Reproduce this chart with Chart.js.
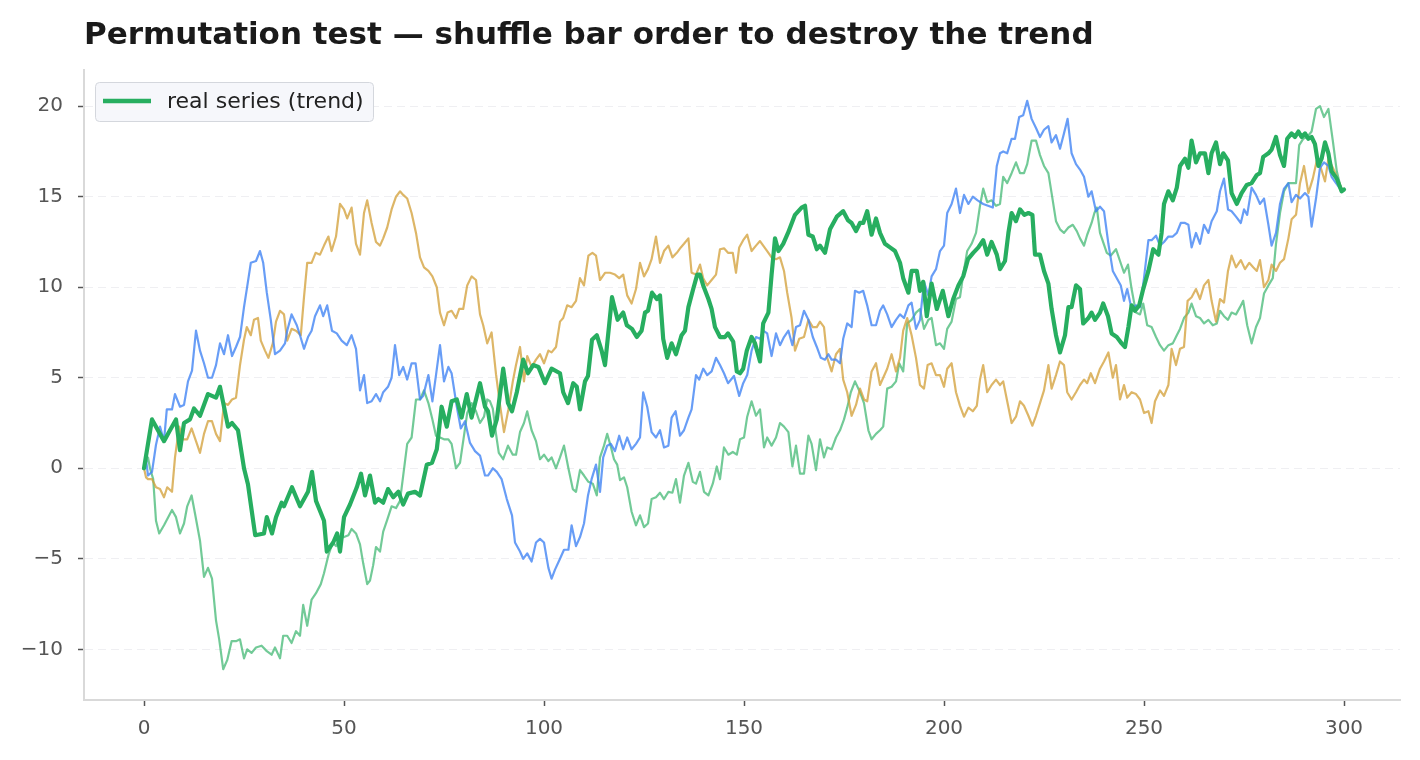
<!DOCTYPE html>
<html>
<head>
<meta charset="utf-8">
<script src="https://cdn.jsdelivr.net/npm/chart.js@4.4.1/dist/chart.umd.min.js"></script>
<style>
html, body { margin: 0; padding: 0; background: #fff; }
canvas { display: block; }
</style>
</head>
<body>
<canvas id="chart" width="1420" height="760"></canvas>
<script>
const chartTitle = 'Permutation test \u2014 shuffle bar order to destroy the trend';
const legendLabel = 'real series (trend)';

const xTickValues = [0, 50, 100, 150, 200, 250, 300];
const yTickValues = [-10, -5, 0, 5, 10, 15, 20];

// [step, cumulative value]
const realSeries = [[0,0],[2,2.7],[5,1.5],[6.5,2.1],[8,2.7],[9,1.0],[10,2.5],[11.5,2.7],[12.5,3.3],[14,2.9],[16,4.1],[18,3.9],[19,4.5],[21,2.3],[22,2.5],[23.5,2.1],[25,0],[26,-0.9],[26.9,-2.3],[27.8,-3.7],[30,-3.6],[30.7,-2.7],[32,-3.6],[33,-2.7],[34.4,-1.9],[35,-2.1],[37,-1.05],[39,-2.1],[41,-1.3],[42,-0.2],[43,-1.8],[45,-2.9],[45.7,-4.6],[47.3,-4.1],[48.3,-3.6],[49,-4.6],[50,-2.7],[51.5,-2.0],[53.2,-1.05],[54.25,-0.3],[55.25,-1.5],[56.5,-0.4],[57.75,-1.9],[58.6,-1.7],[59.8,-1.9],[61,-1.15],[62.3,-1.6],[63.6,-1.3],[64.8,-2.0],[66,-1.4],[67.75,-1.3],[69,-1.5],[70.7,0.2],[72,0.3],[73.2,1.05],[74.4,3.4],[75.7,2.3],[76.9,3.7],[78.2,3.8],[79.4,2.8],[80.7,4.1],[81.9,2.8],[83,3.8],[84,4.7],[85.25,3.4],[86,3.15],[87,1.8],[88.2,2.7],[89.8,5.5],[91,3.6],[92,3.15],[93.2,4.2],[94.8,6.0],[96,5.25],[97.3,5.7],[98.6,5.6],[100.25,4.7],[101.9,5.5],[104,5.25],[104.8,4.2],[106,3.6],[107.3,4.7],[108.2,4.5],[109,3.25],[110.25,4.8],[111,5.1],[112,7.1],[113.2,7.35],[114.4,6.5],[115.25,5.7],[117,9.45],[118.4,8.2],[119.8,8.6],[120.7,7.9],[122,7.7],[123.2,7.25],[124.4,7.6],[125.25,8.6],[126,8.7],[127,9.7],[128.2,9.35],[129,9.55],[129.8,7.15],[130.8,6.1],[131.9,6.9],[133,6.3],[134.4,7.35],[135.25,7.6],[136.1,8.9],[137.3,9.9],[138.3,10.7],[139,10.7],[139.8,10.1],[141.1,9.35],[141.9,8.8],[142.75,7.8],[144,7.25],[145.25,7.25],[146,7.45],[147.3,7.0],[148.2,5.35],[149,5.25],[149.8,5.5],[150.7,6.5],[151.9,7.25],[152.75,6.9],[154,5.9],[154.8,8.0],[156.1,8.6],[156.9,10.7],[157.75,12.7],[158.6,12.0],[159.8,12.4],[161,13.0],[162.75,14.0],[164.4,14.4],[165.25,14.5],[166.1,12.9],[167.2,12.8],[168.2,12.1],[169,12.3],[170.25,11.9],[171.5,13.2],[173.2,13.9],[174.8,14.2],[176,13.7],[176.9,13.55],[178,13.1],[179,13.55],[179.8,13.55],[180.8,14.2],[181.9,12.9],[183,13.8],[184,13.0],[185.25,12.4],[186.5,12.2],[187.75,12.0],[189,11.35],[189.8,10.5],[191.1,9.7],[191.9,10.9],[193.2,10.9],[194,9.8],[194.8,10.3],[195.7,8.4],[196.9,10.2],[198.2,8.8],[199.7,9.8],[201.1,8.4],[202.3,9.35],[203.6,10.1],[204.8,10.6],[206,11.55],[207.3,11.9],[208.6,12.2],[209.8,12.6],[210.8,11.8],[211.9,12.5],[213.2,11.8],[214,11.0],[215.25,11.45],[216.1,13.0],[216.9,14.1],[218,13.65],[219,14.3],[220.1,14.0],[221.1,14.1],[222.1,14.0],[222.75,11.8],[224,11.8],[225,10.9],[226.1,10.2],[226.9,8.8],[228,7.35],[229,6.4],[230.25,7.35],[231.1,8.9],[231.9,8.9],[233,10.1],[234,9.9],[234.8,8.0],[236.1,8.3],[236.9,8.6],[237.75,8.2],[239,8.6],[239.8,9.1],[241,8.4],[241.9,7.45],[243.2,7.25],[244.4,6.9],[245.25,6.7],[246.1,7.8],[246.9,9.0],[247.75,8.7],[248.8,9.0],[249.8,9.9],[251.1,10.9],[252.3,12.1],[253.6,11.8],[254.4,13.0],[255,14.6],[256.1,15.3],[257.2,14.8],[258.2,15.5],[259,16.7],[260.25,17.1],[261.1,16.6],[261.9,18.1],[263,16.9],[264,17.4],[265.25,17.4],[266.1,16.3],[266.9,17.4],[268,18.0],[269,16.8],[269.8,17.4],[271,17.0],[271.9,15.2],[273.2,14.6],[274.4,15.2],[275.7,15.65],[276.9,15.75],[278.2,16.2],[279,16.3],[279.8,17.2],[281.1,17.4],[281.9,17.6],[283,18.3],[284,17.3],[285,16.7],[285.8,18.2],[286.9,18.5],[287.75,18.3],[288.6,18.6],[289.4,18.3],[290.25,18.5],[291.1,18.2],[291.9,18.3],[292.75,17.9],[293.6,16.7],[294.4,17.1],[295.25,18.0],[296.1,17.4],[296.9,16.4],[298.2,16.0],[299.4,15.3],[300,15.4]];

const shuffleBlue = [[0,0],[0.5,0.5],[1,-0.4],[2,-0.2],[3,1.3],[4,2.3],[5,1.5],[5.7,3.25],[7,3.25],[7.75,4.1],[9,3.4],[10,3.5],[11,4.8],[12,5.4],[13,7.6],[14,6.5],[15,5.8],[16,5.0],[17,5.0],[18,5.7],[19,6.9],[20,6.3],[21,7.35],[22,6.2],[23,6.7],[24,7.25],[25,8.9],[25.7,9.9],[26.7,11.35],[28,11.45],[29,12.0],[29.8,11.35],[30.7,9.7],[31.7,8.2],[32.75,6.3],[34,6.5],[35.25,6.9],[35.8,7.6],[36.9,8.5],[38.2,7.9],[39,7.35],[40,6.6],[41,7.25],[41.9,7.6],[42.75,8.4],[44,9.0],[44.8,8.4],[45.8,9.0],[47,7.6],[48.2,7.45],[49.4,7.05],[50.7,6.8],[51.9,7.35],[53,6.6],[54,4.3],[55,5.15],[55.8,3.6],[56.9,3.7],[58,4.1],[59,3.7],[59.8,4.2],[61,4.5],[61.9,5.0],[62.75,6.8],[63.8,5.15],[64.8,5.6],[65.8,4.9],[66.9,5.8],[67.9,5.8],[69,3.8],[69.8,4.0],[71.1,5.15],[72.1,3.7],[73,5.15],[74,6.8],[75,4.8],[76.1,5.6],[76.9,5.25],[78.2,3.4],[79.2,2.2],[80.25,2.6],[81.5,1.4],[82.75,0.95],[84,0.7],[85.25,-0.4],[86,-0.4],[87.2,0],[88.2,-0.2],[89.4,-0.6],[90.7,-1.7],[92,-2.6],[92.75,-4.1],[94,-4.6],[94.8,-5.0],[95.8,-4.7],[96.9,-5.15],[98,-4.1],[99,-3.9],[100,-4.1],[101.1,-5.5],[101.9,-6.1],[102.75,-5.6],[104,-5.0],[105,-4.5],[106.1,-4.5],[106.9,-3.15],[108,-4.3],[109,-3.8],[110,-3.05],[111,-1.5],[111.9,-0.6],[113,0.2],[114,-1.3],[114.8,0.6],[115.8,1.25],[116.7,1.35],[117.75,0.95],[118.8,1.8],[119.8,1.05],[120.8,1.7],[121.9,1.05],[123,1.35],[124,1.7],[124.8,4.2],[125.8,3.4],[126.9,2.0],[128,1.7],[129,2.1],[130,1.15],[131.1,1.25],[131.9,2.8],[132.9,3.15],[134,1.8],[135,2.1],[136.1,2.8],[136.9,3.25],[138,5.15],[138.8,4.9],[139.8,5.5],[140.8,5.15],[141.9,5.35],[143,6.1],[144,5.7],[145,5.25],[146,4.7],[147.5,5.1],[148.8,4.0],[149.8,4.7],[150.8,5.15],[151.9,6.5],[153,7.25],[154,7.15],[154.8,7.6],[155.8,7.45],[156.9,6.2],[158,7.45],[159,6.8],[160,7.25],[161.1,7.6],[162.1,6.8],[163,7.8],[164,7.9],[165,8.7],[166.1,8.2],[167.2,7.25],[168.2,6.7],[169.2,6.1],[170.25,6.0],[171.1,6.3],[171.9,6.0],[173,6.0],[174,5.8],[174.8,7.15],[175.8,8.0],[176.9,7.8],[177.75,9.8],[178.8,9.7],[179.8,9.8],[180.8,9.0],[181.9,7.9],[183,7.9],[184,8.7],[184.8,9.0],[185.8,8.5],[186.9,7.8],[188,8.2],[189,8.5],[190,8.3],[191.1,9.0],[191.9,9.15],[193,7.7],[194,8.2],[195,10.3],[196.1,9.55],[196.9,10.6],[198,11.0],[199,12.0],[200,12.3],[200.8,14.1],[201.9,14.6],[203,15.45],[204,14.1],[205,15.1],[206.1,14.6],[207.2,15.0],[208.4,14.8],[209.8,14.6],[211,14.5],[212.2,14.4],[213.2,16.7],[214,17.4],[214.8,17.5],[215.8,17.4],[216.9,18.2],[217.75,18.2],[218.8,19.4],[219.8,19.5],[220.8,20.3],[221.9,19.3],[223,18.8],[224,18.3],[225,18.7],[226.1,18.9],[226.9,18.0],[228,18.4],[229,17.65],[230,18.5],[230.9,19.3],[231.9,17.4],[233,16.8],[234,16.5],[235,16.1],[236.1,15.0],[236.9,15.3],[238,14.2],[239,14.45],[240,14.2],[241.1,12.4],[242.2,10.9],[243.2,10.5],[244.2,10.1],[245,9.25],[245.8,9.9],[246.9,8.8],[248,9.0],[249,8.9],[250,10.5],[251.1,12.6],[251.9,12.6],[253,12.85],[254,12.3],[255,12.5],[256.1,12.8],[257.2,12.8],[258.2,13.0],[259.2,13.55],[260.25,13.55],[261.1,13.45],[261.9,12.2],[263,13.0],[264,12.4],[265,13.45],[266.1,13.0],[266.9,13.65],[268.2,14.2],[269,15.3],[270,16.0],[271,14.3],[271.9,14.2],[273,13.9],[274.2,13.55],[275,14.3],[275.8,14.0],[276.9,15.5],[278,15.1],[279,14.6],[280,14.9],[281.1,13.45],[281.9,12.3],[283,13.0],[284,14.6],[285,15.45],[286.1,15.75],[286.9,14.7],[288,15.1],[289,14.9],[290.25,15.2],[291.1,15.0],[291.9,13.35],[293,14.9],[294,16.6],[295,16.9],[296.1,16.7],[296.9,16.1],[298,15.75],[299,15.45],[300,15.4]];

const shuffleGold = [[0,0],[0.5,-0.5],[1,-0.6],[2,-0.6],[3,-1.05],[4,-1.15],[5,-1.6],[5.8,-1.05],[7,-1.3],[7.75,0.6],[8.8,2.3],[9.7,1.6],[10.8,1.6],[11.9,2.2],[13,1.5],[14,0.85],[15,1.9],[16,2.6],[17,2.6],[18,1.9],[19,1.5],[20,3.6],[21,3.5],[22,3.8],[23,3.9],[24,5.7],[25,7.1],[25.7,7.8],[26.7,7.35],[27.5,8.2],[28.5,8.3],[29.2,7.05],[30.25,6.5],[31.1,6.1],[32.2,6.9],[33,8.1],[34,8.7],[35,8.5],[35.8,7.05],[36.9,7.7],[38,7.6],[39.2,7.35],[40,9.45],[40.8,11.35],[41.9,11.35],[42.9,11.9],[44,11.8],[45,12.3],[46.1,12.8],[46.9,12.0],[48,12.8],[49,14.6],[50,14.3],[50.8,13.8],[51.9,14.4],[53,12.4],[54,11.8],[55,14.1],[55.8,14.8],[56.9,13.55],[58,12.5],[59,12.3],[59.8,12.7],[60.8,13.3],[61.9,14.3],[63,15.0],[64,15.3],[64.8,15.1],[65.8,14.9],[66.9,14.1],[68,13.0],[69,11.65],[70,11.1],[71.1,10.9],[72.1,10.6],[73.2,10.0],[74,8.6],[75,7.9],[75.9,8.6],[76.9,8.7],[78,8.3],[78.8,8.8],[79.8,8.8],[80.8,10.1],[81.9,10.6],[83,10.4],[84,8.5],[84.8,7.9],[85.8,6.9],[86.9,7.5],[88,5.2],[89,3.5],[90,2.0],[91.1,3.25],[92.2,4.8],[93,5.7],[94,6.7],[95,4.8],[95.8,6.2],[96.9,5.6],[98,6.0],[99,6.3],[100,5.8],[101.1,6.5],[101.9,6.4],[103,6.7],[104,8.1],[104.8,8.3],[105.8,9.0],[106.9,8.9],[108,9.25],[109,10.5],[110,10.1],[111.1,11.75],[112.1,11.9],[113,11.75],[114,10.4],[115.25,10.8],[116.5,10.8],[117.75,10.7],[118.8,10.5],[119.8,10.7],[120.8,9.55],[121.9,9.1],[123,9.9],[124,11.35],[125,10.6],[126,11.0],[126.9,11.55],[128,12.8],[129,11.35],[130,12.0],[131.1,12.3],[132.1,11.65],[133.2,11.9],[134.2,12.2],[135,12.4],[136.1,12.7],[136.9,10.8],[138,10.7],[139,11.25],[139.8,10.5],[140.8,10.1],[141.9,10.4],[143,10.7],[144,12.1],[145,12.15],[146,11.9],[147.2,11.9],[148,10.8],[148.8,12.2],[149.8,12.6],[150.8,12.9],[151.9,12.0],[153,12.3],[154,12.55],[154.8,12.3],[155.8,12.0],[156.9,11.65],[158,11.55],[159,11.65],[160,10.9],[160.8,9.7],[161.9,8.3],[162.75,6.5],[163.8,7.15],[165,7.25],[166.1,8.2],[167.2,7.8],[168.2,7.8],[169,8.1],[170,7.8],[170.8,6.1],[171.9,5.35],[173,6.3],[174,6.6],[174.8,4.9],[175.8,4.2],[176.9,2.9],[178,3.5],[179,4.4],[180,3.8],[180.8,3.7],[181.9,5.35],[183,5.8],[184,4.6],[184.8,5.0],[185.8,5.5],[186.9,6.3],[188,5.35],[189,6.1],[189.8,7.6],[190.8,8.3],[191.9,7.35],[193,6.1],[194,4.6],[195,4.4],[195.9,5.7],[196.9,5.8],[198,5.15],[199,5.15],[200,4.5],[200.8,5.5],[201.9,5.8],[203,4.2],[204,3.45],[205,2.85],[206.1,3.35],[207.2,3.15],[208.2,3.45],[209,4.9],[209.8,5.7],[210.8,4.2],[211.9,4.6],[213,4.9],[214,4.6],[214.8,4.8],[215.8,3.7],[216.9,2.5],[218,2.85],[219,3.7],[220,3.45],[221.1,2.9],[222.1,2.35],[223,2.9],[224,3.6],[225,4.3],[226.1,5.7],[226.9,4.4],[228,5.15],[229,5.9],[230,5.7],[230.8,4.2],[231.9,3.8],[233,4.2],[234,4.6],[235,4.9],[235.8,4.7],[236.7,5.25],[237.75,4.7],[239,5.5],[240,5.9],[241.1,6.4],[242.2,5.0],[243,5.7],[244,3.8],[245,4.6],[245.8,3.9],[246.9,4.2],[248,4.1],[249,3.8],[250,3.05],[251.1,3.15],[251.9,2.5],[252.75,3.7],[254,4.3],[255,4.0],[256.1,4.6],[256.9,6.6],[258,5.7],[259,6.6],[260,6.7],[260.9,9.25],[261.9,9.45],[263,9.9],[264,9.35],[265,10.1],[266.1,10.4],[266.9,9.25],[268,8.1],[269,9.35],[270,9.15],[271,10.9],[271.9,11.75],[273,11.1],[274.2,11.5],[275.25,11.0],[276.3,11.35],[277.3,11.1],[278.2,10.9],[279,11.5],[280,10.0],[281.1,10.4],[281.9,11.25],[283,10.9],[284,11.35],[285,11.55],[286.1,12.7],[286.9,13.75],[288,14.0],[289,15.75],[290,16.7],[291.1,15.2],[292.2,16.0],[293.2,17.0],[294.2,16.6],[295.25,15.85],[296.1,17.1],[297.2,16.6],[298.2,16.1],[299.4,15.45],[300,15.4]];

const shuffleGreen = [[0,0],[1,0.6],[1.5,0],[2.3,-0.6],[3,-2.9],[3.8,-3.6],[5,-3.15],[7,-2.3],[8,-2.7],[9,-3.6],[10,-3.05],[10.8,-2.1],[11.9,-1.5],[12.75,-2.5],[14,-4.0],[15,-6.0],[16,-5.5],[17,-6.1],[18,-8.4],[18.8,-9.45],[19.8,-11.1],[20.8,-10.6],[21.9,-9.55],[23,-9.55],[24,-9.45],[25,-10.5],[25.8,-10.0],[26.9,-10.2],[28,-9.9],[29.4,-9.8],[30.7,-10.1],[31.9,-10.3],[32.75,-9.9],[34,-10.5],[34.8,-9.25],[35.8,-9.25],[36.9,-9.65],[38,-9.0],[39,-9.25],[39.8,-7.55],[40.8,-8.7],[41.9,-7.25],[43,-6.9],[44.2,-6.4],[45,-5.8],[46.1,-4.8],[47.2,-4.1],[48,-4.3],[49,-3.8],[50,-3.8],[51.1,-3.7],[51.9,-3.35],[53,-3.6],[54,-4.2],[54.8,-5.25],[55.8,-6.4],[56.5,-6.2],[57.3,-5.35],[58,-4.35],[59,-4.6],[59.8,-3.5],[60.8,-2.85],[61.9,-2.1],[63,-2.2],[64,-1.8],[64.8,-0.4],[65.8,1.35],[66.9,1.7],[68,3.8],[69,3.8],[70,4.3],[71.1,3.6],[72.1,2.7],[73,1.8],[74,1.7],[75,1.6],[76.1,1.6],[76.9,1.35],[78,0],[79,0.3],[80,1.8],[80.8,3.05],[81.9,3.6],[83,3.15],[84,2.5],[85,2.85],[85.8,3.8],[86.5,3.7],[87.2,3.3],[88,1.9],[88.7,0.85],[89.8,0.5],[91,1.25],[92.2,0.75],[93,0.75],[94,2.0],[95,2.5],[95.8,3.15],[96.9,2.1],[98,1.5],[99,0.5],[100,0.75],[101.1,0.4],[101.9,0.6],[103,0],[104,0.6],[105,1.25],[106.1,0],[107.2,-1.15],[108,-1.3],[109,-0.1],[110,-0.4],[111.1,-0.75],[112.2,-0.85],[113.2,-1.5],[114,0.6],[115,1.25],[115.8,1.9],[116.7,1.2],[117.5,0.5],[118.3,0.2],[119,-0.65],[120,-0.5],[120.8,-1.05],[121.9,-2.4],[123,-3.15],[124,-2.6],[125,-3.25],[126,-3.05],[126.9,-1.7],[128,-1.6],[129,-1.35],[130,-1.7],[131.1,-1.3],[132.1,-1.35],[133,-0.6],[134,-1.9],[135,-0.4],[136.1,0.3],[137.2,-0.75],[138,-0.85],[139,-0.2],[140,-1.3],[141.1,-1.5],[142.2,-0.85],[143.2,0.1],[144,-0.6],[145,1.15],[146.1,0.75],[147.2,0.9],[148.2,0.75],[149,1.6],[150,1.7],[150.8,2.85],[151.9,3.7],[153,2.9],[154,3.25],[155,1.15],[155.8,1.7],[156.9,1.25],[158,1.7],[159,2.5],[160,2.3],[161.1,2.0],[162.1,0.1],[163,1.25],[164,-0.3],[165,-0.3],[166.1,1.8],[166.9,1.35],[168,-0.1],[169,1.6],[170,0.6],[170.8,1.15],[171.9,1.05],[173,1.7],[174,2.1],[175,2.7],[175.8,3.35],[176.7,4.2],[177.75,4.8],[179,4.2],[180,3.6],[181.1,2.1],[181.9,1.6],[183,1.9],[184,2.1],[184.8,2.3],[185.8,4.4],[186.9,4.5],[188,4.8],[188.8,5.8],[189.8,5.35],[190.8,8.0],[191.9,8.2],[193,8.6],[194,8.8],[195,7.7],[196.1,8.2],[196.9,8.3],[198,6.8],[199,6.9],[200,6.6],[200.8,7.7],[201.9,8.1],[203,9.35],[204,9.45],[204.8,10.7],[205.8,12.0],[206.9,12.4],[208,13.0],[209,14.5],[209.8,15.45],[210.8,14.7],[211.9,14.8],[213,14.5],[214,14.6],[214.8,16.1],[215.8,15.75],[216.9,16.3],[218,16.9],[219,16.3],[220,16.3],[220.8,16.8],[221.9,18.1],[223,18.1],[224,17.3],[225,16.7],[226.1,16.3],[226.9,15.2],[228,13.65],[229,13.2],[230,13.0],[231.1,13.3],[232.2,13.45],[233.2,13.1],[234,12.7],[235,12.3],[235.8,12.9],[236.9,13.55],[237.6,14.1],[238.2,14.4],[239,13.0],[240.7,11.9],[241.7,11.75],[243,12.1],[244,11.45],[245,10.8],[246,11.25],[246.9,9.9],[248,8.6],[249,8.5],[249.8,9.1],[250.8,7.9],[251.9,7.8],[253,7.25],[254,6.8],[255,6.5],[256.1,6.8],[257.2,6.9],[258.2,7.35],[259,7.7],[260,8.3],[261.1,8.6],[261.9,9.1],[263,8.4],[264,8.3],[265,8.0],[266.1,8.2],[267.2,7.9],[268.2,8.0],[269,8.7],[270,8.4],[271,8.2],[271.9,8.6],[273,8.5],[274,8.9],[274.8,9.25],[275.8,7.9],[276.9,6.9],[278,7.8],[279,8.3],[280,9.65],[281.1,10.1],[282.2,10.5],[283,12.4],[284,14.1],[285,15.3],[286.1,15.75],[286.9,15.75],[288,15.75],[288.8,17.85],[289.8,18.2],[290.8,18.3],[291.9,18.6],[293,19.85],[294,20.0],[295,19.4],[296.1,19.85],[297.2,18.1],[298.2,16.4],[299.4,15.3],[300,15.4]];

const realColor = '#27ae60';

function toPoints(pairs) {
    return pairs.map(([x, y]) => ({ x: x, y: y }));
}

function fmtTick(v) {
    return v < 0 ? '\u2212' + Math.abs(v) : String(v);
}

// title + in-plot legend box, drawn on top of everything
const titleAndLegend = {
    id: 'titleAndLegend',
    afterDraw(chart) {
        const ctx = chart.ctx;
        const area = chart.chartArea;
        ctx.save();
        ctx.fillStyle = '#1a1a1a';
        ctx.font = 'bold 31px "DejaVu Sans"';
        ctx.textBaseline = 'alphabetic';
        ctx.fillText(chartTitle, 84, 44);

        const bx = area.left + 11, by = area.top + 12, bw = 278, bh = 39;
        ctx.beginPath();
        ctx.roundRect(bx + 0.5, by + 0.5, bw, bh, 4);
        ctx.fillStyle = 'rgba(246,247,251,0.95)';
        ctx.fill();
        ctx.strokeStyle = '#d4d7dd';
        ctx.lineWidth = 1;
        ctx.stroke();

        ctx.beginPath();
        ctx.moveTo(bx + 8, by + 19);
        ctx.lineTo(bx + 56, by + 19);
        ctx.strokeStyle = realColor;
        ctx.lineWidth = 4.5;
        ctx.stroke();

        ctx.fillStyle = '#222';
        ctx.font = '22px "DejaVu Sans"';
        ctx.textBaseline = 'middle';
        ctx.fillText(legendLabel, bx + 72, by + 20);
        ctx.restore();
    }
};

const ctx = document.getElementById('chart').getContext('2d');

window.permChart = new Chart(ctx, {
    type: 'line',
    data: {
        datasets: [{
            label: legendLabel,
            data: toPoints(realSeries),
            borderColor: realColor,
            borderWidth: 4.2
        }, {
            label: 'shuffle 1',
            data: toPoints(shuffleBlue),
            borderColor: 'rgba(66,133,244,0.8)',
            borderWidth: 2.2
        }, {
            label: 'shuffle 2',
            data: toPoints(shuffleGold),
            borderColor: 'rgba(209,157,52,0.75)',
            borderWidth: 2.2
        }, {
            label: 'shuffle 3',
            data: toPoints(shuffleGreen),
            borderColor: 'rgba(39,174,96,0.65)',
            borderWidth: 2.2
        }]
    },
    options: {
        responsive: false,
        animation: false,
        devicePixelRatio: 1,
        layout: {
            padding: { top: 70, right: 20, bottom: 0, left: 0 }
        },
        elements: {
            point: { radius: 0 },
            line: { tension: 0, borderJoinStyle: 'round', borderCapStyle: 'round' }
        },
        plugins: {
            legend: { display: false },
            tooltip: { enabled: false }
        },
        scales: {
            x: {
                type: 'linear',
                min: -15,
                max: 314,
                afterFit(scale) { scale.height = 60; },
                afterBuildTicks(scale) { scale.ticks = xTickValues.map(v => ({ value: v })); },
                grid: {
                    drawOnChartArea: false,
                    drawTicks: true,
                    tickLength: 6,
                    tickColor: '#555',
                    tickWidth: 1.5
                },
                border: { display: true, color: '#d9d9d9', width: 2 },
                ticks: {
                    padding: 11,
                    color: '#555',
                    font: { family: 'DejaVu Sans', size: 20 },
                    maxRotation: 0,
                    callback: fmtTick
                }
            },
            y: {
                type: 'linear',
                min: -12.8,
                max: 22,
                afterFit(scale) { scale.width = 84; },
                afterBuildTicks(scale) { scale.ticks = yTickValues.map(v => ({ value: v })); },
                grid: {
                    color: '#efeff2',
                    lineWidth: 1,
                    drawTicks: true,
                    tickLength: 6,
                    tickColor: '#555',
                    tickWidth: 1.5
                },
                border: { display: true, color: '#d9d9d9', width: 2, dash: [8, 5] },
                ticks: {
                    padding: 15,
                    color: '#555',
                    font: { family: 'DejaVu Sans', size: 20 },
                    callback: fmtTick
                }
            }
        }
    },
    plugins: [titleAndLegend]
});
</script>
</body>
</html>
